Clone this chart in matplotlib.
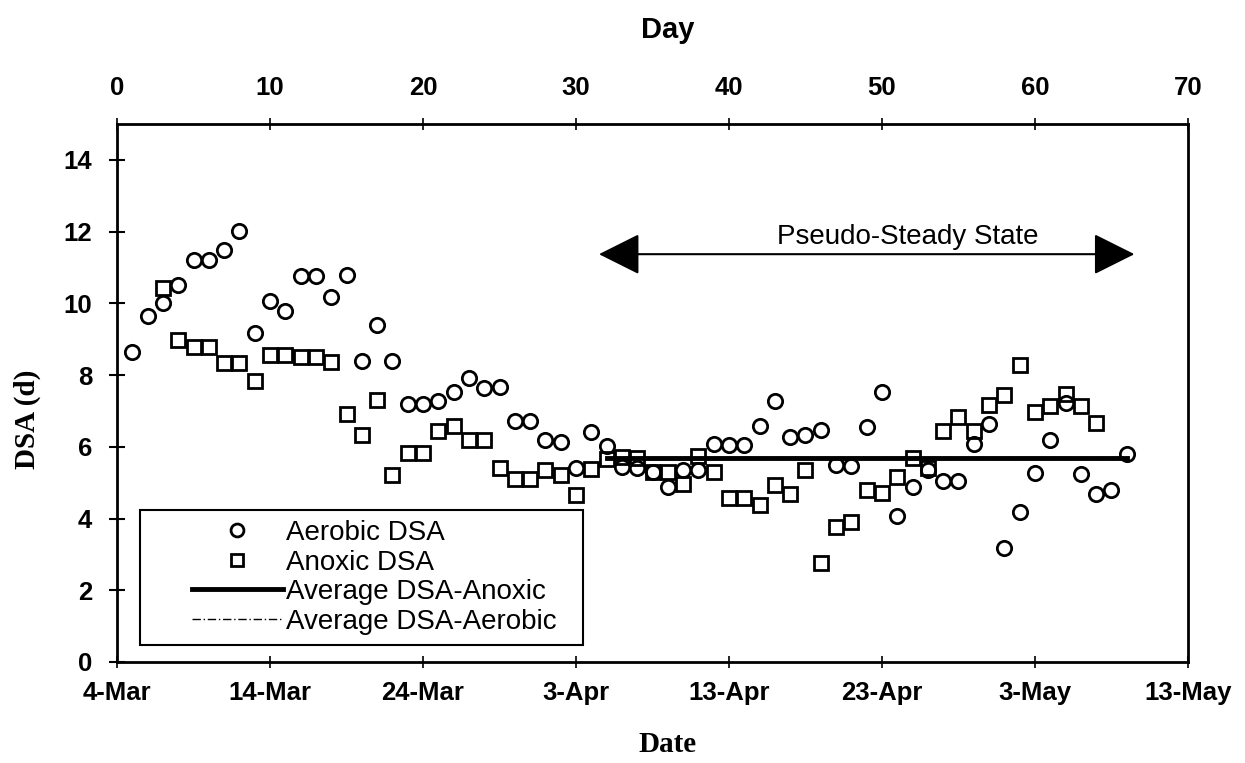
import matplotlib
matplotlib.use('Agg')
import matplotlib.pyplot as plt
from matplotlib.patches import Rectangle

plt.rcParams['font.family'] = ['Liberation Sans', 'DejaVu Sans']

# day counted from 4-Mar
aerobic_days = list(range(1, 67))
aerobic_dsa = [8.63, 9.64, 10.02, 10.52, 11.21, 11.21, 11.50, 12.01, 9.18, 10.07,
               9.78, 10.76, 10.75, 10.19, 10.80, 8.40, 9.39, 8.39, 7.18, 7.18,
               7.28, 7.53, 7.91, 7.63, 7.68, 6.72, 6.72, 6.18, 6.12, 5.42,
               6.42, 6.02, 5.43, 5.42, 5.31, 4.89, 5.36, 5.35, 6.07, 6.06,
               6.06, 6.58, 7.28, 6.27, 6.32, 6.48, 5.48, 5.47, 6.55, 7.52,
               4.08, 4.89, 5.35, 5.05, 5.04, 6.07, 6.64, 3.19, 4.18, 5.27,
               6.20, 7.23, 5.25, 4.69, 4.79, 5.79]

anoxic_days = list(range(3, 65))
anoxic_dsa = [10.44, 8.98, 8.77, 8.77, 8.33, 8.33, 7.83, 8.57, 8.56, 8.50,
              8.49, 8.35, 6.92, 6.33, 7.30, 5.21, 5.84, 5.84, 6.44, 6.58,
              6.18, 6.18, 5.42, 5.10, 5.10, 5.34, 5.20, 4.66, 5.39, 5.66,
              5.71, 5.70, 5.31, 5.30, 4.97, 5.74, 5.29, 4.56, 4.56, 4.38,
              4.94, 4.67, 5.35, 2.77, 3.75, 3.91, 4.80, 4.70, 5.17, 5.70,
              5.41, 6.44, 6.82, 6.43, 7.17, 7.45, 8.28, 6.97, 7.15, 7.46,
              7.14, 6.67]

avg_days = [32, 66]
avg_anoxic = [5.68, 5.68]
avg_aerobic = [5.72, 5.72]

day_ticks = [0, 10, 20, 30, 40, 50, 60, 70]
date_labels = ['4-Mar', '14-Mar', '24-Mar', '3-Apr', '13-Apr', '23-Apr', '3-May', '13-May']
y_ticks = [0, 2, 4, 6, 8, 10, 12, 14]

fig = plt.figure(figsize=(12.45, 7.63), dpi=100)
ax = fig.add_axes([0.094, 0.1324, 0.8602, 0.7051])

h1, = ax.plot(aerobic_days, aerobic_dsa, 'o', ms=10.3, mfc='none', mec='black', mew=2, ls='none')
h2, = ax.plot(anoxic_days, anoxic_dsa, 's', ms=9.5, mfc='none', mec='black', mew=2, ls='none')
h3, = ax.plot(avg_days, avg_anoxic, color='black', lw=3.5)
h4, = ax.plot(avg_days, avg_aerobic, color='black', lw=1, dashes=(6, 2, 1, 2))

ax.set_xlim(0, 70)
ax.set_ylim(0, 15)
ax.set_xticks(day_ticks)
ax.set_xticklabels(date_labels, fontsize=18.5, fontweight='bold')
ax.set_yticks(y_ticks)
ax.set_yticklabels([str(v) for v in y_ticks], fontsize=18.5, fontweight='bold')
ax.tick_params(axis='x', direction='inout', length=8, width=1.2, pad=10)
ax.tick_params(axis='y', direction='inout', length=12, width=1.5, pad=12)
for s in ax.spines.values():
    s.set_linewidth(2)

top = ax.secondary_xaxis('top')
top.set_xticks(day_ticks)
top.set_xticklabels([str(d) for d in day_ticks], fontsize=18.5, fontweight='bold')
top.tick_params(direction='inout', length=8, width=1.2, pad=13)

# pseudo-steady state arrow
ax.annotate('', xy=(31.5, 11.37), xytext=(66.5, 11.37),
            arrowprops=dict(arrowstyle='<|-|>,head_length=1.3,head_width=0.65',
                            mutation_scale=20, color='black', lw=1.5,
                            shrinkA=0, shrinkB=0))
ax.text(51.7, 11.84, 'Pseudo-Steady State', fontsize=20, ha='center', va='center')

# legend
ax.add_patch(Rectangle((0.0215, 0.0316), 0.4136, 0.2509, transform=ax.transAxes,
                       fill=False, lw=1.5, color='black', zorder=3))
ax.legend([h1, h2, h3, h4],
          ['Aerobic DSA', 'Anoxic DSA', 'Average DSA-Anoxic', 'Average DSA-Aerobic'],
          loc='upper left', bbox_to_anchor=(0.070, 0.264), frameon=False,
          fontsize=20, handlelength=3.27, handletextpad=0.12, labelspacing=0.13,
          markerscale=0.9, borderpad=0, borderaxespad=0)

fig.text(0.5365, 0.961, 'Day', fontsize=21, fontweight='bold', ha='center', va='center')
fig.text(0.5365, 0.024, 'Date', fontsize=21, fontweight='bold', ha='center', va='center',
         family='Liberation Serif')
fig.text(0.022, 0.45, 'DSA (d)', fontsize=21, fontweight='bold', ha='center', va='center',
         rotation=90, family='Liberation Serif')

fig.savefig('out.png', dpi=100)
